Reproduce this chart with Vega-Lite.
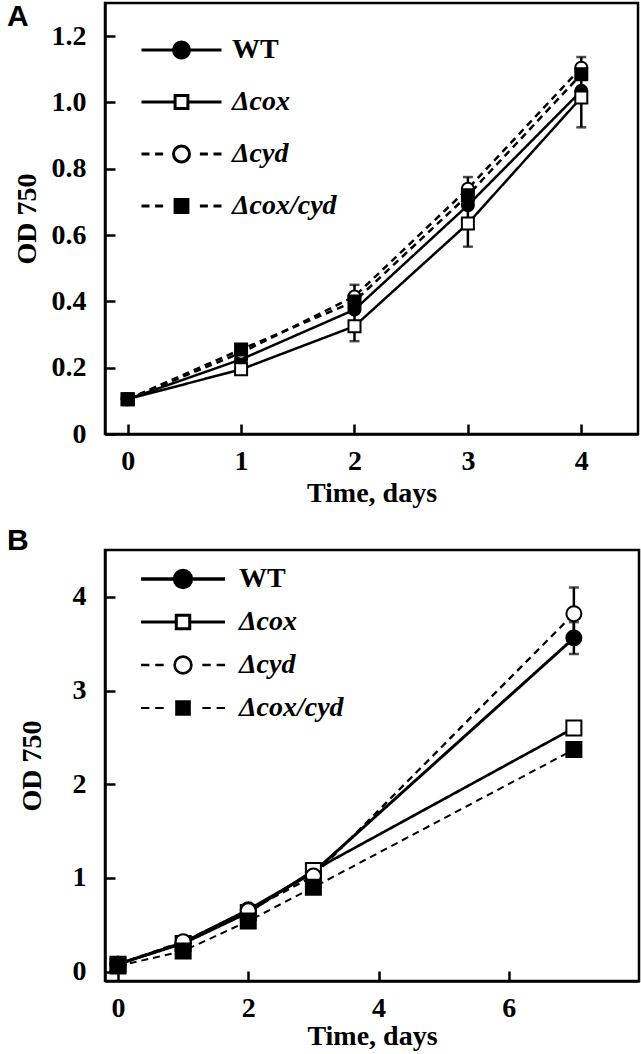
{
  "$schema": "https://vega.github.io/schema/vega-lite/v6.json",
  "padding": {"left": 5, "top": 0, "right": 0, "bottom": 0},
  "bounds": "flush",
  "spacing": 116,
  "background": "white",
  "datasets": {
    "a": [
      {"series": "WT", "t": 0, "od": 0.105, "lo": null, "hi": null},
      {"series": "WT", "t": 1, "od": 0.225, "lo": null, "hi": null},
      {"series": "WT", "t": 2, "od": 0.375, "lo": null, "hi": null},
      {"series": "WT", "t": 3, "od": 0.69, "lo": null, "hi": null},
      {"series": "WT", "t": 4, "od": 1.035, "lo": null, "hi": null},
      {"series": "Δcox", "t": 0, "od": 0.105, "lo": null, "hi": null},
      {"series": "Δcox", "t": 1, "od": 0.195, "lo": null, "hi": null},
      {"series": "Δcox", "t": 2, "od": 0.325, "lo": 0.28, "hi": 0.37},
      {"series": "Δcox", "t": 3, "od": 0.635, "lo": 0.565, "hi": 0.705},
      {"series": "Δcox", "t": 4, "od": 1.015, "lo": 0.925, "hi": 1.105},
      {"series": "Δcyd", "t": 0, "od": 0.105, "lo": null, "hi": null},
      {"series": "Δcyd", "t": 1, "od": 0.245, "lo": null, "hi": null},
      {"series": "Δcyd", "t": 2, "od": 0.415, "lo": 0.385, "hi": 0.45},
      {"series": "Δcyd", "t": 3, "od": 0.74, "lo": 0.705, "hi": 0.775},
      {"series": "Δcyd", "t": 4, "od": 1.105, "lo": 1.07, "hi": 1.137},
      {"series": "Δcox/cyd", "t": 0, "od": 0.105, "lo": null, "hi": null},
      {"series": "Δcox/cyd", "t": 1, "od": 0.255, "lo": null, "hi": null},
      {"series": "Δcox/cyd", "t": 2, "od": 0.4, "lo": null, "hi": null},
      {"series": "Δcox/cyd", "t": 3, "od": 0.72, "lo": null, "hi": null},
      {"series": "Δcox/cyd", "t": 4, "od": 1.085, "lo": null, "hi": null}
    ],
    "b": [
      {"series": "WT", "t": 0, "od": 0.08, "lo": null, "hi": null},
      {"series": "WT", "t": 1, "od": 0.31, "lo": null, "hi": null},
      {"series": "WT", "t": 2, "od": 0.66, "lo": null, "hi": null},
      {"series": "WT", "t": 3, "od": 1.06, "lo": null, "hi": null},
      {"series": "WT", "t": 7, "od": 3.56, "lo": 3.39, "hi": 3.73},
      {"series": "Δcox", "t": 0, "od": 0.08, "lo": null, "hi": null},
      {"series": "Δcox", "t": 1, "od": 0.3, "lo": null, "hi": null},
      {"series": "Δcox", "t": 2, "od": 0.63, "lo": null, "hi": null},
      {"series": "Δcox", "t": 3, "od": 1.08, "lo": null, "hi": null},
      {"series": "Δcox", "t": 7, "od": 2.6, "lo": null, "hi": null},
      {"series": "Δcyd", "t": 0, "od": 0.08, "lo": null, "hi": null},
      {"series": "Δcyd", "t": 1, "od": 0.32, "lo": null, "hi": null},
      {"series": "Δcyd", "t": 2, "od": 0.65, "lo": null, "hi": null},
      {"series": "Δcyd", "t": 3, "od": 1.02, "lo": null, "hi": null},
      {"series": "Δcyd", "t": 7, "od": 3.82, "lo": 3.54, "hi": 4.1},
      {"series": "Δcox/cyd", "t": 0, "od": 0.06, "lo": null, "hi": null},
      {"series": "Δcox/cyd", "t": 1, "od": 0.22, "lo": null, "hi": null},
      {"series": "Δcox/cyd", "t": 2, "od": 0.54, "lo": null, "hi": null},
      {"series": "Δcox/cyd", "t": 3, "od": 0.9, "lo": null, "hi": null},
      {"series": "Δcox/cyd", "t": 7, "od": 2.37, "lo": null, "hi": null}
    ]
  },
  "config": {
    "font": "Liberation Serif",
    "view": {"stroke": "black", "strokeWidth": 2.5},
    "axis": {
      "grid": false,
      "domainColor": "black", "domainWidth": 2.5,
      "tickColor": "black", "tickWidth": 2.5, "tickSize": -10,
      "labelFont": "Liberation Serif", "labelFontWeight": "bold", "labelFontSize": 28, "labelColor": "black",
      "titleFont": "Liberation Serif", "titleFontWeight": "bold", "titleFontSize": 28, "titleColor": "black"
    },
    "axisX": {"labelPadding": 23, "titlePadding": 4},
    "axisY": {"labelPadding": 29},
    "legend": {
      "orient": "none", "title": null, "padding": 0,
      "labelFont": "Liberation Serif", "labelFontSize": 28, "labelFontWeight": "bold", "labelColor": "black", "labelBaseline": "middle",
      "labelFontStyle": {"expr": "datum.value === 'WT' ? 'normal' : 'italic'"},
      "symbolOpacity": 1
    },
    "title": {"font": "Liberation Sans", "fontSize": 30, "fontWeight": "bold", "color": "black", "anchor": "start", "frame": "group", "offset": 0, "dx": -98, "baseline": "alphabetic"}
  },
  "vconcat": [
    {
      "title": {"text": "A", "dy": 33},
      "width": 533,
      "height": 431,
      "data": {"name": "a"},
      "encoding": {
        "x": {"field": "t", "type": "quantitative", "scale": {"domain": [-0.2, 4.5], "nice": false, "zero": false},
              "axis": {"values": [0, 1, 2, 3, 4], "title": "Time, days"}},
        "y": {"field": "od", "type": "quantitative", "scale": {"domain": [0, 1.3], "nice": false},
              "axis": {"values": [0, 0.2, 0.4, 0.6, 0.8, 1.0, 1.2], "labelExpr": "datum.value == 0 ? '0' : format(datum.value, '.1f')", "title": "OD 750", "titlePadding": 10}}
      },
      "layer": [
        {
          "mark": {"type": "line", "color": "black"},
          "encoding": {
            "strokeDash": {"field": "series", "scale": {"domain": ["WT", "Δcox", "Δcyd", "Δcox/cyd"], "range": [[1, 0], [1, 0], [7, 5], [7, 5]]}, "legend": null},
            "strokeWidth": {"value": 2.5}
          }
        },
        {
          "transform": [{"filter": "datum.lo != null"}],
          "mark": {"type": "errorbar", "color": "black", "ticks": {"size": 10, "thickness": 2.5}, "rule": {"strokeWidth": 2.5}, "thickness": 2.5},
          "encoding": {
            "y": {"field": "lo", "type": "quantitative", "title": "OD 750"},
            "y2": {"field": "hi"}
          }
        },
        {
          "mark": {"type": "point", "filled": true, "size": 144, "stroke": "black", "strokeWidth": 2, "opacity": 1},
          "encoding": {
            "shape": {"field": "series", "scale": {"domain": ["WT", "Δcox", "Δcyd", "Δcox/cyd"], "range": ["circle", "square", "circle", "square"]}, "legend": null},
            "fill": {"field": "series", "scale": {"domain": ["WT", "Δcox", "Δcyd", "Δcox/cyd"], "range": ["black", "white", "white", "black"]}, "legend": null}
          }
        },
        {
          "transform": [{"filter": "false"}],
          "mark": {"type": "point", "filled": true, "color": "black", "size": 6400, "opacity": 1, "strokeWidth": 3},
          "encoding": {
            "shape": {
              "field": "series",
              "scale": {"domain": ["WT", "Δcox", "Δcyd", "Δcox/cyd"],
                        "range": [
                          "M-1,0H-0.2M0.2,0H1M0.2,0A0.2,0.2,0,1,1,-0.2,0A0.2,0.2,0,1,1,0.2,0Z",
                          "M-1,0H-0.16M0.16,0H1M-0.16,-0.16H0.16V0.16H-0.16Z",
                          "M-1,0H-0.8M-0.66,0H-0.46M0.46,0H0.66M0.8,0H1M0.2,0A0.2,0.2,0,1,1,-0.2,0A0.2,0.2,0,1,1,0.2,0Z",
                          "M-1,0H-0.8M-0.66,0H-0.46M0.46,0H0.66M0.8,0H1M-0.16,-0.16H0.16V0.16H-0.16Z"
                        ]},
              "legend": {"legendX": 35, "legendY": 27, "clipHeight": 40, "rowPadding": 12, "labelOffset": 9, "symbolSize": 6400}
            },
            "fill": {
              "field": "series",
              "scale": {"domain": ["WT", "Δcox", "Δcyd", "Δcox/cyd"], "range": ["black", "white", "white", "black"]},
              "legend": {"legendX": 35, "legendY": 27, "clipHeight": 40, "rowPadding": 12, "labelOffset": 9, "symbolSize": 6400}
            },
            "stroke": {
              "field": "series",
              "scale": {"domain": ["WT", "Δcox", "Δcyd", "Δcox/cyd"], "range": ["black", "black", "black", "black"]},
              "legend": {"legendX": 35, "legendY": 27, "clipHeight": 40, "rowPadding": 12, "labelOffset": 9, "symbolSize": 6400}
            },
            "strokeWidth": {
              "field": "series",
              "scale": {"domain": ["WT", "Δcox", "Δcyd", "Δcox/cyd"], "range": [3, 3, 3, 3]},
              "legend": {"legendX": 35, "legendY": 27, "clipHeight": 40, "rowPadding": 12, "labelOffset": 9, "symbolSize": 6400}
            }
          }
        }
      ],
      "resolve": {
        "scale": {"shape": "independent", "fill": "independent", "stroke": "independent", "strokeWidth": "independent"},
        "legend": {"shape": "independent", "fill": "independent", "stroke": "independent", "strokeWidth": "independent"}
      }
    },
    {
      "title": {"text": "B", "dy": 10},
      "width": 534,
      "height": 431,
      "data": {"name": "b"},
      "encoding": {
        "x": {"field": "t", "type": "quantitative", "scale": {"domain": [-0.2, 8], "nice": false, "zero": false},
              "axis": {"values": [0, 2, 4, 6], "title": "Time, days", "titlePadding": 0}},
        "y": {"field": "od", "type": "quantitative", "scale": {"domain": [-0.1, 4.5], "nice": false, "zero": false},
              "axis": {"values": [0, 1, 2, 3, 4], "title": "OD 750", "titlePadding": 26}}
      },
      "layer": [
        {
          "mark": {"type": "line", "color": "black"},
          "encoding": {
            "strokeDash": {"field": "series", "scale": {"domain": ["WT", "Δcox", "Δcyd", "Δcox/cyd"], "range": [[1, 0], [1, 0], [7, 5], [7, 5]]}, "legend": null},
            "strokeWidth": {"field": "series", "scale": {"domain": ["WT", "Δcox", "Δcyd", "Δcox/cyd"], "range": [3, 2, 2.5, 2]}, "legend": null}
          }
        },
        {
          "transform": [{"filter": "datum.lo != null"}],
          "mark": {"type": "errorbar", "color": "black", "ticks": {"size": 10, "thickness": 2.5}, "rule": {"strokeWidth": 2.5}, "thickness": 2.5},
          "encoding": {
            "y": {"field": "lo", "type": "quantitative", "title": "OD 750"},
            "y2": {"field": "hi"}
          }
        },
        {
          "mark": {"type": "point", "filled": true, "size": 225, "stroke": "black", "strokeWidth": 2, "opacity": 1},
          "encoding": {
            "shape": {"field": "series", "scale": {"domain": ["WT", "Δcox", "Δcyd", "Δcox/cyd"], "range": ["circle", "square", "circle", "square"]}, "legend": null},
            "fill": {"field": "series", "scale": {"domain": ["WT", "Δcox", "Δcyd", "Δcox/cyd"], "range": ["black", "white", "white", "black"]}, "legend": null}
          }
        },
        {
          "transform": [{"filter": "false"}],
          "mark": {"type": "point", "filled": true, "color": "black", "size": 7056, "opacity": 1, "strokeWidth": 3},
          "encoding": {
            "shape": {
              "field": "series",
              "scale": {"domain": ["WT", "Δcox", "Δcyd", "Δcox/cyd"],
                        "range": [
                          "M-1,0H-0.2M0.2,0H1M0.2,0A0.2,0.2,0,1,1,-0.2,0A0.2,0.2,0,1,1,0.2,0Z",
                          "M-1,0H-0.16M0.16,0H1M-0.16,-0.16H0.16V0.16H-0.16Z",
                          "M-1,0H-0.8M-0.66,0H-0.46M0.46,0H0.66M0.8,0H1M0.2,0A0.2,0.2,0,1,1,-0.2,0A0.2,0.2,0,1,1,0.2,0Z",
                          "M-1,0H-0.8M-0.66,0H-0.46M0.46,0H0.66M0.8,0H1M-0.16,-0.16H0.16V0.16H-0.16Z"
                        ]},
              "legend": {"legendX": 34, "legendY": 11, "clipHeight": 36, "rowPadding": 7, "labelOffset": 12, "symbolSize": 7056}
            },
            "fill": {
              "field": "series",
              "scale": {"domain": ["WT", "Δcox", "Δcyd", "Δcox/cyd"], "range": ["black", "white", "white", "black"]},
              "legend": {"legendX": 34, "legendY": 11, "clipHeight": 36, "rowPadding": 7, "labelOffset": 12, "symbolSize": 7056}
            },
            "stroke": {
              "field": "series",
              "scale": {"domain": ["WT", "Δcox", "Δcyd", "Δcox/cyd"], "range": ["black", "black", "black", "black"]},
              "legend": {"legendX": 34, "legendY": 11, "clipHeight": 36, "rowPadding": 7, "labelOffset": 12, "symbolSize": 7056}
            },
            "strokeWidth": {
              "field": "series",
              "scale": {"domain": ["WT", "Δcox", "Δcyd", "Δcox/cyd"], "range": [3.5, 2.2, 3, 2.5]},
              "legend": {"legendX": 34, "legendY": 11, "clipHeight": 36, "rowPadding": 7, "labelOffset": 12, "symbolSize": 7056}
            }
          }
        }
      ],
      "resolve": {
        "scale": {"shape": "independent", "fill": "independent", "stroke": "independent", "strokeWidth": "independent"},
        "legend": {"shape": "independent", "fill": "independent", "stroke": "independent", "strokeWidth": "independent"}
      }
    }
  ]
}
